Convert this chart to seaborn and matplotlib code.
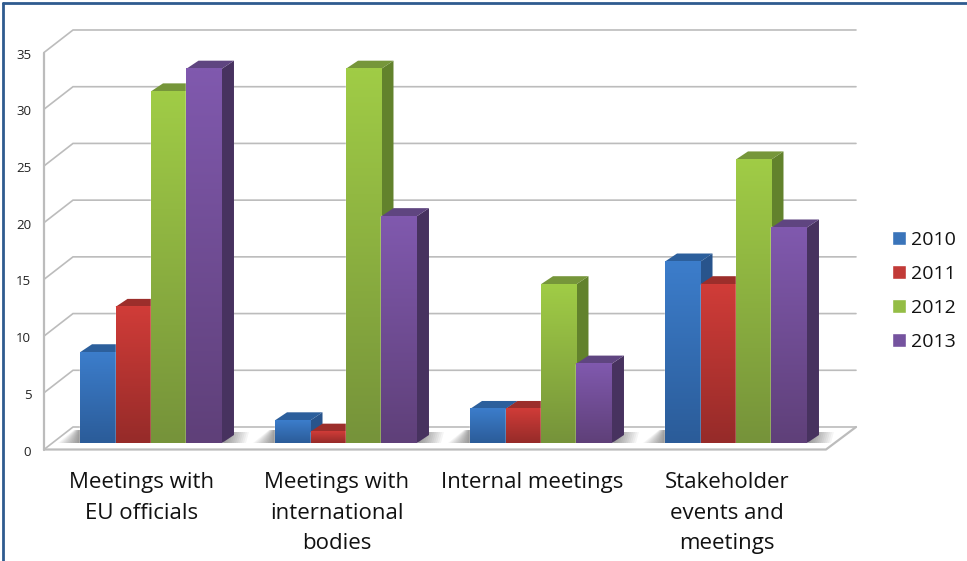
import numpy as np
import pandas as pd
import matplotlib.pyplot as plt
from matplotlib.colors import to_rgb
from matplotlib.lines import Line2D
from matplotlib.patches import Polygon
from matplotlib.transforms import ScaledTranslation
import seaborn as sns

#%% data
activities = ["Meetings with\nEU officials", "Meetings with\ninternational\nbodies",
              "Internal meetings", "Stakeholder\nevents and\nmeetings"]
years = ["2010", "2011", "2012", "2013"]
values_2010 = [8, 2, 3, 16]
values_2011 = [12, 1, 3, 14]
values_2012 = [31, 33, 14, 25]
values_2013 = [33, 20, 7, 19]
y_ticks = [0, 5, 10, 15, 20, 25, 30, 35]

legend_colors = ["#3a74ba", "#c23a37", "#94bd45", "#75539f"]
front_top = ["#3c7dcb", "#d03c38", "#a0cc46", "#8059ae"]
front_bottom = ["#2b5c99", "#962b29", "#76933a", "#5f4079"]
side_colors = ["#28548c", "#882826", "#62822c", "#47325f"]
top_colors = ["#2c5f9c", "#9c2e2b", "#76963a", "#5f4580"]

df = pd.DataFrame({"activity": activities * 4,
                   "year": np.repeat(years, 4),
                   "count": values_2010 + values_2011 + values_2012 + values_2013})

#%% figure, axes placed so one category is 195px and one unit is 11.34px
W, H = 967, 561
sns.set_style("white")
plt.rcParams["font.family"] = ["Open Sans", "DejaVu Sans"]
fig = plt.figure(figsize=(W / 100, H / 100), dpi=100)
ax = fig.add_axes([53.5 / W, (H - 443) / H, 780 / W, 397 / H])

sns.barplot(data=df, x="activity", y="count", hue="year", palette=legend_colors,
            width=0.728, gap=0, saturation=1, ax=ax)
ax.set_xlim(-0.5, 3.5)
ax.set_ylim(0, 35)
ax.set_xlabel("")
ax.set_ylabel("")
sns.despine(ax=ax, left=True, bottom=True)

PX = 1 / 195
PY = 1 / 11.34


def fx(px):
    return -0.5 + (px - 53.5) * PX


def fy(py):
    return (443 - py) * PY


#%% walls and floor (pixel offsets from the front plane)
wall = "#bcbcbc"
for t in y_ticks:
    yf = t - 6.5 * PY
    yb = t + 16 * PY
    ax.plot([fx(44), fx(73), fx(856)], [yf, yb, yb], color=wall, lw=1.2,
            clip_on=False, zorder=1, solid_joinstyle="miter")
ax.plot([fx(44), fx(44)], [y_ticks[0] - 6.5 * PY, y_ticks[-1] - 6.5 * PY], color=wall,
        lw=1.6, clip_on=False, zorder=1.5)
ax.plot([fx(44), fx(826), fx(856)], [fy(449.5), fy(449.5), fy(427)], color=wall, lw=1.6,
        clip_on=False, zorder=1.5)

#%% 3d bars, drawn left to right
bars = []
for i, cont in enumerate(ax.containers):
    for b in cont:
        bars.append((b.get_x(), i, b))
bars.sort(key=lambda r: r[0])

dx, dy = 12 * PX, 8 * PY
for n, (x0, i, b) in enumerate(bars):
    w, h = b.get_width(), b.get_height()
    z = 3 + n * 0.01
    b.set_zorder(z)
    ax.add_patch(Polygon([(x0 + w, 0), (x0 + w + dx, dy), (x0 + w + dx, h + dy), (x0 + w, h)],
                         closed=True, fc=side_colors[i], ec="none", clip_on=False, zorder=z))
    ax.add_patch(Polygon([(x0, h), (x0 + dx, h + dy), (x0 + w + dx, h + dy), (x0 + w, h)],
                         closed=True, fc=top_colors[i], ec="none", clip_on=False, zorder=z))
    grad = np.linspace(to_rgb(front_top[i]), to_rgb(front_bottom[i]), 64)[:, None, :]
    im = ax.imshow(grad, extent=(x0, x0 + w, 0, h), aspect="auto", interpolation="bilinear",
                   zorder=z + 0.001)
    im.set_clip_on(False)

#%% floor shadows beside each group, soft edge from stacked layers
for k in range(4):
    left = k - 0.364
    right = k + 0.364
    for s in np.arange(1, 13) / 12:
        ax.add_patch(Polygon([(left, 0), (left - 22 * s * PX, 0), (left - 6 * s * PX, 13 * PY),
                              (left, 13 * PY)],
                             closed=True, fc="#000000", alpha=0.04, ec="none", clip_on=False, zorder=2))
        ax.add_patch(Polygon([(right, 0), (right + 24 * s * PX, 0),
                              (right + 24 * s * PX + 3 * PX, 11 * PY), (right + 12 * PX, 11 * PY)],
                             closed=True, fc="#000000", alpha=0.04, ec="none", clip_on=False, zorder=2))

ax.set_xlim(-0.5, 3.5)
ax.set_ylim(0, 35)

#%% ticks
ax.set_yticks(y_ticks)
ax.tick_params(axis="y", length=0, pad=16, labelsize=9.5, labelcolor="#222222")
ax.tick_params(axis="x", length=0, pad=21, labelsize=16, labelcolor="#111111")
for lab in ax.get_yticklabels():
    lab.set_transform(lab.get_transform() + ScaledTranslation(0, -7.5 / 100, fig.dpi_scale_trans))
for lab in ax.get_xticklabels():
    lab.set_linespacing(1.6)
    lab.set_transform(lab.get_transform() + ScaledTranslation(-9 / 100, 0, fig.dpi_scale_trans))

#%% legend
handles = [plt.Rectangle((0, 0), 1, 1, fc=c) for c in legend_colors]
ax.legend(handles, years, loc="center left", bbox_to_anchor=(874 / W, (H - 291) / H),
          bbox_transform=fig.transFigure, frameon=False, fontsize=14,
          handlelength=0.72, handleheight=0.72, handletextpad=0.3, labelspacing=0.83,
          labelcolor="#111111")

#%% outer frame
frame = "#2f5b8f"
fig.add_artist(Line2D([3 / W, 3 / W], [0, 1 - 3 / H], color=frame, lw=2))
fig.add_artist(Line2D([3 / W, 1], [1 - 3 / H, 1 - 3 / H], color=frame, lw=2))

fig.savefig("out.png", dpi=100)
